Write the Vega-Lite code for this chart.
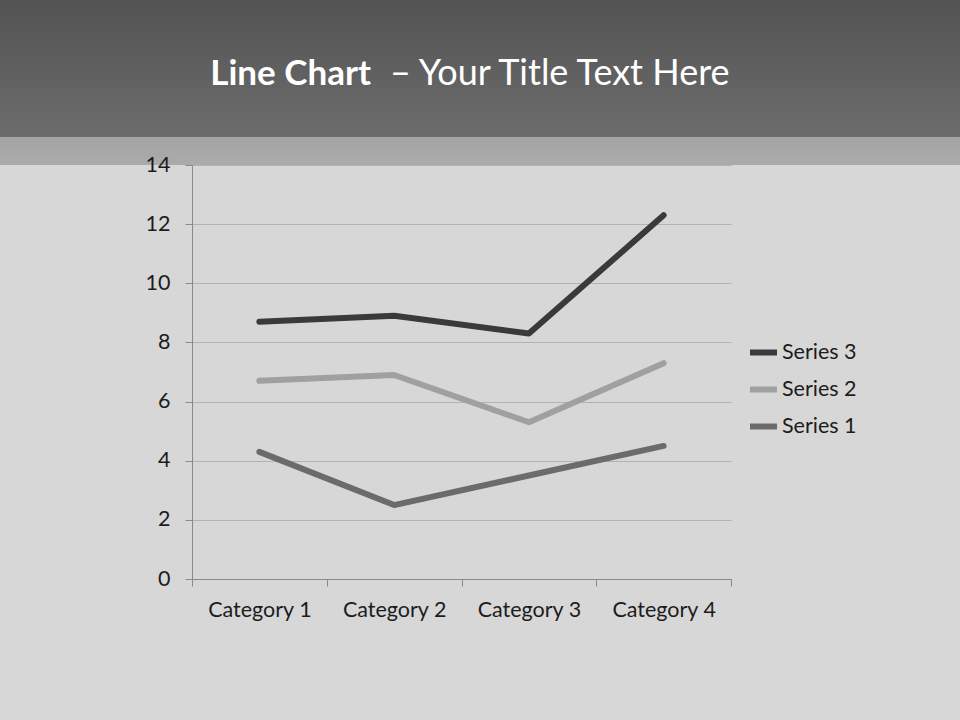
{
  "$schema": "https://vega.github.io/schema/vega-lite/v6.json",
  "background": "#d7d7d7",
  "padding": {"left": 0, "top": 0, "right": 0, "bottom": 101},
  "spacing": 0,
  "bounds": "flush",
  "config": {
    "font": "Lato",
    "view": {"stroke": null}
  },
  "resolve": {"scale": {"color": "independent"}, "legend": {"color": "independent"}},
  "vconcat": [
    {
      "width": 960,
      "height": 165,
      "view": {
        "stroke": null,
        "fill": {
          "gradient": "linear",
          "x1": 0, "y1": 0, "x2": 0, "y2": 1,
          "stops": [
            {"offset": 0, "color": "#535353"},
            {"offset": 0.83, "color": "#6c6c6c"},
            {"offset": 0.831, "color": "#a4a4a4"},
            {"offset": 1, "color": "#ababab"}
          ]
        }
      },
      "data": {"values": [{"bold": "Line Chart", "rest": "– Your Title Text Here"}]},
      "layer": [
        {
          "mark": {"type": "text", "align": "right", "baseline": "alphabetic", "dx": -109, "dy": 2, "fontSize": 35, "fontWeight": "bold", "color": "#ffffff"},
          "encoding": {"text": {"field": "bold", "type": "nominal"}}
        },
        {
          "mark": {"type": "text", "align": "left", "baseline": "alphabetic", "dx": -90, "dy": 2, "fontSize": 36, "fontWeight": "normal", "color": "#ffffff"},
          "encoding": {"text": {"field": "rest", "type": "nominal"}}
        }
      ]
    },
    {
      "spacing": 0,
      "bounds": "flush",
      "resolve": {"scale": {"color": "independent"}, "legend": {"color": "independent"}},
      "hconcat": [
        {
          "width": 192,
          "height": 414,
          "data": {"values": []},
          "mark": {"type": "text"}
        },
        {
          "width": 539,
          "height": 414,
          "data": {
            "values": [
              {"category": "Category 1", "series": "Series 1", "value": 4.3},
              {"category": "Category 2", "series": "Series 1", "value": 2.5},
              {"category": "Category 3", "series": "Series 1", "value": 3.5},
              {"category": "Category 4", "series": "Series 1", "value": 4.5},
              {"category": "Category 1", "series": "Series 2", "value": 6.7},
              {"category": "Category 2", "series": "Series 2", "value": 6.9},
              {"category": "Category 3", "series": "Series 2", "value": 5.3},
              {"category": "Category 4", "series": "Series 2", "value": 7.3},
              {"category": "Category 1", "series": "Series 3", "value": 8.7},
              {"category": "Category 2", "series": "Series 3", "value": 8.9},
              {"category": "Category 3", "series": "Series 3", "value": 8.3},
              {"category": "Category 4", "series": "Series 3", "value": 12.3}
            ]
          },
          "mark": {"type": "line", "strokeWidth": 6, "strokeCap": "round", "strokeJoin": "round"},
          "encoding": {
            "x": {
              "field": "category",
              "type": "nominal",
              "scale": {"type": "band", "paddingInner": 0, "paddingOuter": 0},
              "axis": {
                "title": null,
                "labelAngle": 0,
                "tickBand": "extent",
                "grid": false,
                "domainColor": "#8a8a8a",
                "tickColor": "#8a8a8a",
                "tickSize": 7,
                "labelPadding": 13,
                "labelFontSize": 21.5,
                "labelColor": "#1c1c1c"
              }
            },
            "y": {
              "field": "value",
              "type": "quantitative",
              "scale": {"domain": [0, 14], "nice": false},
              "axis": {
                "title": null,
                "values": [0, 2, 4, 6, 8, 10, 12, 14],
                "grid": true,
                "gridColor": "#b2b2b2",
                "gridWidth": 1,
                "domainColor": "#8a8a8a",
                "tickColor": "#8a8a8a",
                "tickSize": 7,
                "labelPadding": 15,
                "labelFontSize": 21.5,
                "labelColor": "#1c1c1c"
              }
            },
            "color": {
              "field": "series",
              "type": "nominal",
              "scale": {"domain": ["Series 3", "Series 2", "Series 1"], "range": ["#3a3a3a", "#a0a0a0", "#6b6b6b"]},
              "legend": {
                "title": null,
                "orient": "none",
                "legendX": 555,
                "legendY": 171,
                "symbolType": "stroke",
                "symbolSize": 729,
                "symbolStrokeWidth": 6,
                "labelFontSize": 21.5,
                "labelColor": "#1c1c1c",
                "labelOffset": 2,
                "rowPadding": 8,
                "padding": 0
              }
            }
          }
        }
      ]
    }
  ]
}
